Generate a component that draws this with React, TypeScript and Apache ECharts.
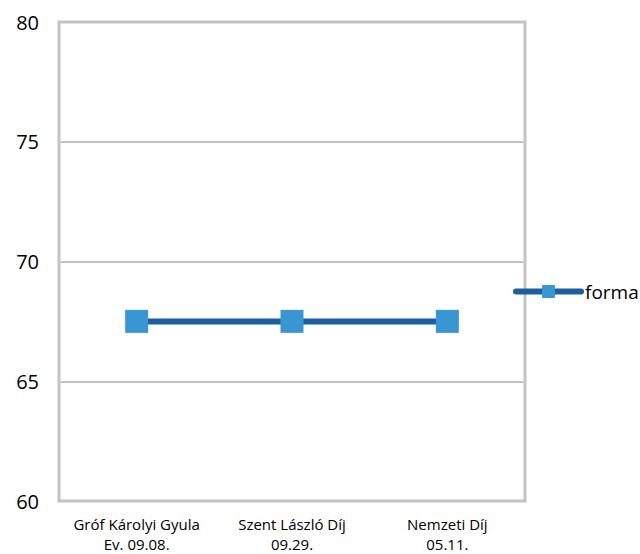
import React, { useEffect, useRef } from "react";
import * as echarts from "echarts";

const categories = ["Gróf Károlyi Gyula\nEv. 09.08.", "Szent László Díj\n09.29.", "Nemzeti Díj\n05.11."];
const formaValues = [67.5, 67.5, 67.5];
const seriesName = "forma";

export default function App() {
  const ref = useRef<HTMLDivElement>(null);
  useEffect(() => {
    const chart = echarts.init(ref.current!, null, { renderer: "svg" });
    chart.setOption({
      animation: false,
      textStyle: { fontFamily: "Open Sans" },
      grid: {
        left: 59,
        right: 115,
        top: 22,
        bottom: 52,
        show: true,
        borderColor: "#c3c3c3",
        borderWidth: 3,
        containLabel: false,
      },
      legend: {
        data: [seriesName],
        left: 513,
        top: 282,
        padding: 0,
        itemWidth: 65,
        itemHeight: 16,
        itemGap: 0,
        lineStyle: { width: 6, color: "#1D5E9F", cap: "round" },
        textStyle: { fontSize: 19, color: "#000", fontFamily: "Open Sans", padding: [0, 0, 0, -1] },
      },
      xAxis: {
        type: "category",
        data: categories,
        boundaryGap: true,
        axisLine: { show: false },
        axisTick: { show: false },
        axisLabel: { fontSize: 15, color: "#000", lineHeight: 20, margin: 13, interval: 0 },
      },
      yAxis: {
        type: "value",
        min: 60,
        max: 80,
        interval: 5,
        axisLine: { show: false },
        axisTick: { show: false },
        axisLabel: { fontSize: 20, color: "#000", margin: 20 },
        splitLine: { lineStyle: { color: "#c3c3c3", width: 2 } },
      },
      series: [
        {
          name: seriesName,
          type: "line",
          data: formaValues,
          symbol: "rect",
          symbolSize: 23,
          itemStyle: { color: "#3A96D2" },
          lineStyle: { color: "#1D5E9F", width: 6 },
        },
      ],
    });
    return () => chart.dispose();
  }, []);
  return <div ref={ref} style={{ width: 640, height: 554, position: "absolute", left: 0, top: 0 }} />;
}
